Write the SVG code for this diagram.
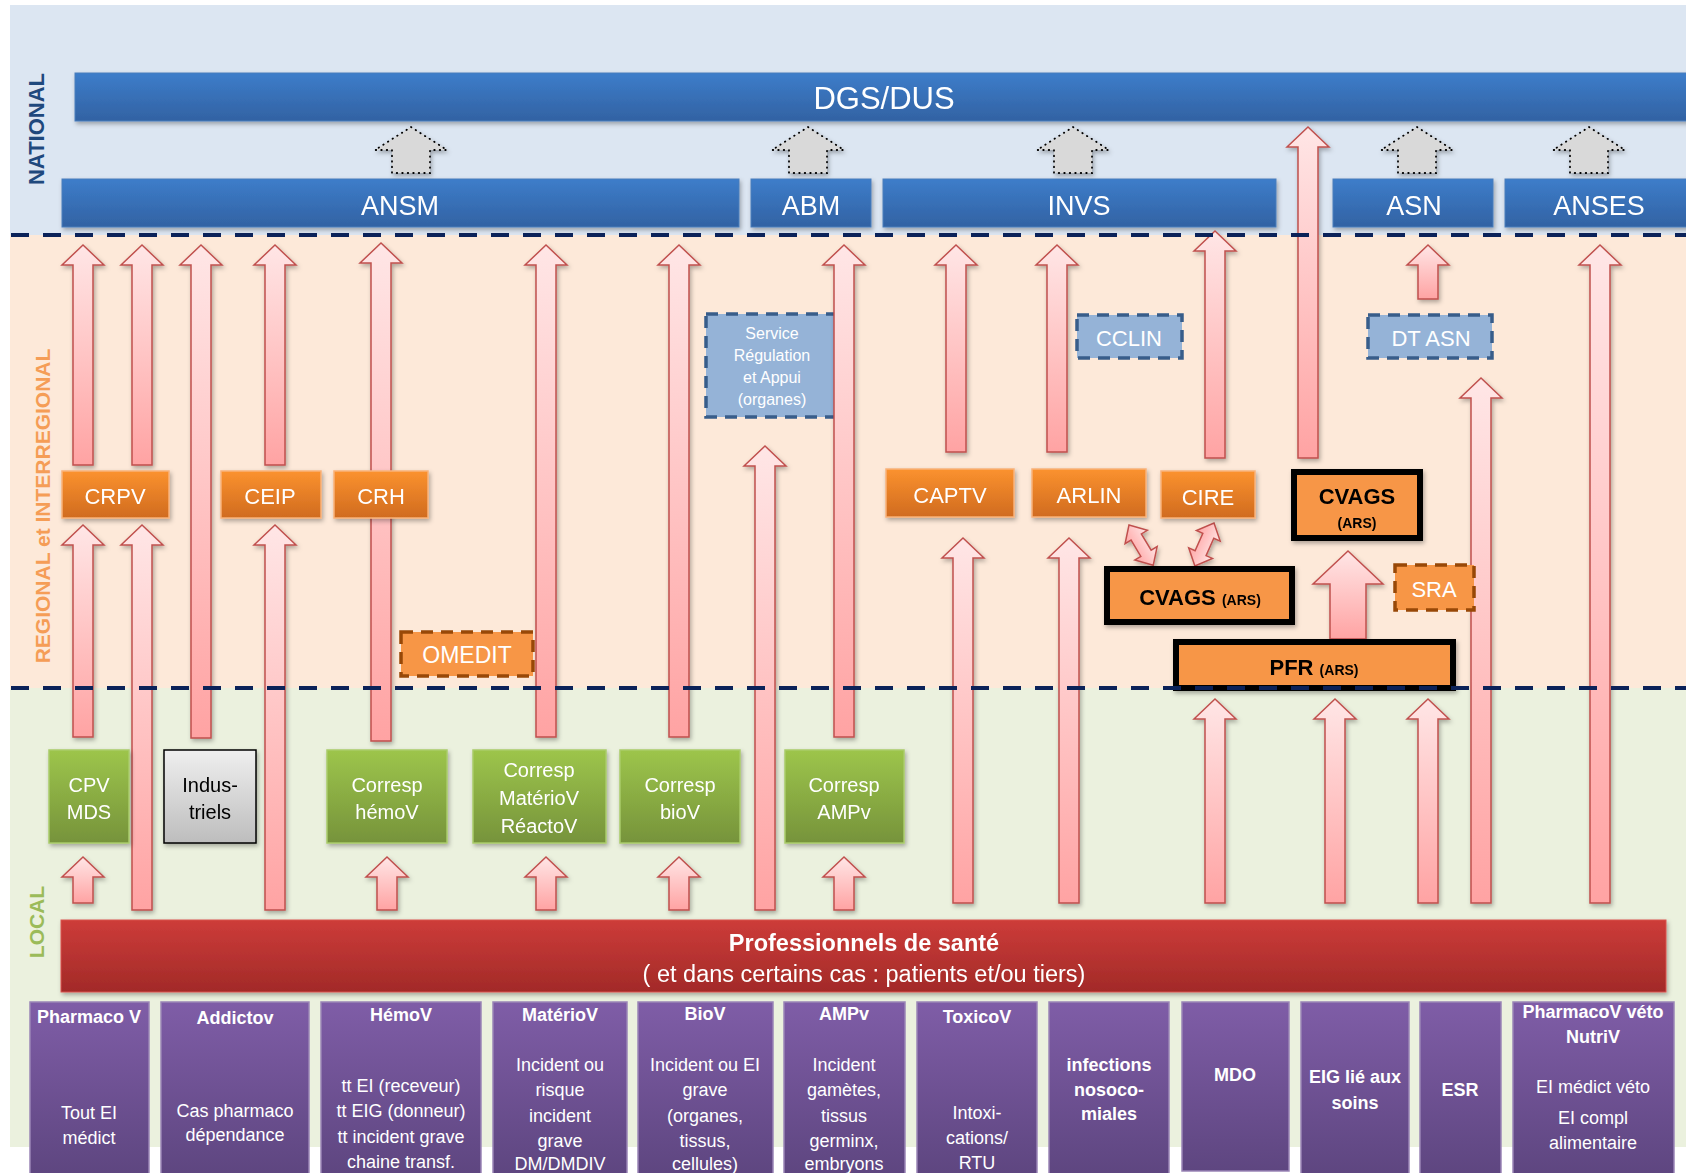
<svg xmlns="http://www.w3.org/2000/svg" width="1686" height="1173" viewBox="0 0 1686 1173">
<defs>
<linearGradient id="gBlue" x1="0" y1="0" x2="0" y2="1"><stop offset="0" stop-color="#3D7DCA"/><stop offset="1" stop-color="#3262A3"/></linearGradient>
<linearGradient id="gOr" x1="0" y1="0" x2="0" y2="1"><stop offset="0" stop-color="#FB922F"/><stop offset="1" stop-color="#D06B1F"/></linearGradient>
<linearGradient id="gGr" x1="0" y1="0" x2="0" y2="1"><stop offset="0" stop-color="#9DC54B"/><stop offset="1" stop-color="#76933B"/></linearGradient>
<linearGradient id="gGy" x1="0" y1="0" x2="0" y2="1"><stop offset="0" stop-color="#EFEFEF"/><stop offset="1" stop-color="#BDBDBD"/></linearGradient>
<linearGradient id="gRed" x1="0" y1="0" x2="0" y2="1"><stop offset="0" stop-color="#CD3C39"/><stop offset="1" stop-color="#A22A28"/></linearGradient>
<linearGradient id="gPu" x1="0" y1="0" x2="0" y2="1"><stop offset="0" stop-color="#7F5DA7"/><stop offset="1" stop-color="#5E4680"/></linearGradient>
<linearGradient id="gA" x1="0" y1="0" x2="0" y2="1"><stop offset="0" stop-color="#FFE6E6"/><stop offset="1" stop-color="#FFA3A3"/></linearGradient>
<filter id="sh" x="-10%" y="-10%" width="130%" height="140%"><feDropShadow dx="1.5" dy="2.5" stdDeviation="2" flood-color="#000" flood-opacity="0.3"/></filter>
</defs>
<style>
.t{font-family:"Liberation Sans",Arial,sans-serif;fill:#fff;text-anchor:middle}
.b{font-weight:bold}
.k{fill:#000}
.bar{fill:url(#gBlue);stroke:#4A7EBB;stroke-width:1}
.or{fill:url(#gOr);stroke:#F9B27A;stroke-width:1.5}
.od{fill:#F79646;stroke:#984807;stroke-width:3.5;stroke-dasharray:12 8}
.cv{fill:#F79646;stroke:#000;stroke-width:6}
.bd{fill:#95B3D7;stroke:#385D8A;stroke-width:3.5;stroke-dasharray:12 8}
.gr{fill:url(#gGr);stroke:#A9CB6A;stroke-width:1.5}
.pu{fill:url(#gPu);stroke:#9A85B6;stroke-width:1.5}
.arr{fill:url(#gA);stroke:#C0504D;stroke-width:1.5}
.dot{fill:#D9D9D9;stroke:#000;stroke-width:1.8;stroke-dasharray:0.5 5;stroke-linecap:round}
.dash{stroke:#0B2259;stroke-width:4;stroke-dasharray:18 14;fill:none}
</style>
<rect width="1686" height="1173" fill="#fff"/>
<g id="bands">
<rect x="10" y="5" width="1676" height="230" fill="#DCE6F2"/>
<rect x="10" y="235" width="1676" height="453" fill="#FDE9D9"/>
<rect x="10" y="688" width="1676" height="459" fill="#EBF1DE"/>
<text class="t b" transform="translate(44,129) rotate(-90)" font-size="22" style="fill:#1F497D">NATIONAL</text>
<text class="t b" transform="translate(50,506) rotate(-90)" font-size="21" style="fill:#F59D56">REGIONAL et INTERREGIONAL</text>
<text class="t b" transform="translate(44,922) rotate(-90)" font-size="21" style="fill:#9BBB59">LOCAL</text>
</g>
<g id="DGS" filter="url(#sh)"><rect class="bar" x="75" y="73" width="1630" height="48"/><text class="t" x="884" y="109" font-size="31">DGS/DUS</text></g>
<g id="ANSM" filter="url(#sh)"><rect class="bar" x="62" y="179" width="677" height="48"/><text class="t" x="400" y="215" font-size="27">ANSM</text></g>
<g id="ABM" filter="url(#sh)"><rect class="bar" x="751" y="179" width="120" height="48"/><text class="t" x="811" y="215" font-size="27">ABM</text></g>
<g id="INVS" filter="url(#sh)"><rect class="bar" x="883" y="179" width="393" height="48"/><text class="t" x="1079" y="215" font-size="27">INVS</text></g>
<g id="ASN" filter="url(#sh)"><rect class="bar" x="1333" y="179" width="160" height="48"/><text class="t" x="1414" y="215" font-size="27">ASN</text></g>
<g id="ANSES" filter="url(#sh)"><rect class="bar" x="1505" y="179" width="200" height="48"/><text class="t" x="1599" y="215" font-size="27">ANSES</text></g>
<g id="ServiceRegulation"><rect class="bd" x="706" y="314" width="134" height="103"/>
<text class="t" x="772" y="339" font-size="16">Service</text><text class="t" x="772" y="361" font-size="16">Régulation</text><text class="t" x="772" y="383" font-size="16">et Appui</text><text class="t" x="772" y="405" font-size="16">(organes)</text></g>
<g id="connectors" filter="url(#sh)">
<path class="dot" d="M411,127 L447,150 L430,150 L430,173 L392,173 L392,150 L375,150 Z"/>
<path class="dot" d="M808,127 L844,150 L827,150 L827,173 L789,173 L789,150 L772,150 Z"/>
<path class="dot" d="M1073,127 L1109,150 L1092,150 L1092,173 L1054,173 L1054,150 L1037,150 Z"/>
<path class="dot" d="M1417,127 L1453,150 L1436,150 L1436,173 L1398,173 L1398,150 L1381,150 Z"/>
<path class="dot" d="M1589,127 L1625,150 L1608,150 L1608,173 L1570,173 L1570,150 L1553,150 Z"/>
<path class="arr" d="M83,245 L104,265 L93,265 L93,465 L73,465 L73,265 L62,265 Z"/>
<path class="arr" d="M142,245 L163,265 L152,265 L152,465 L132,465 L132,265 L121,265 Z"/>
<path class="arr" d="M201,245 L222,265 L211,265 L211,738 L191,738 L191,265 L180,265 Z"/>
<path class="arr" d="M275,245 L296,265 L285,265 L285,465 L265,465 L265,265 L254,265 Z"/>
<path class="arr" d="M381,243 L402,263 L391,263 L391,741 L371,741 L371,263 L360,263 Z"/>
<path class="arr" d="M546,245 L567,265 L556,265 L556,737 L536,737 L536,265 L525,265 Z"/>
<path class="arr" d="M679,245 L700,265 L689,265 L689,737 L669,737 L669,265 L658,265 Z"/>
<path class="arr" d="M844,245 L865,265 L854,265 L854,737 L834,737 L834,265 L823,265 Z"/>
<path class="arr" d="M956,245 L977,265 L966,265 L966,452 L946,452 L946,265 L935,265 Z"/>
<path class="arr" d="M1057,245 L1078,265 L1067,265 L1067,452 L1047,452 L1047,265 L1036,265 Z"/>
<path class="arr" d="M1215,231 L1236,251 L1225,251 L1225,458 L1205,458 L1205,251 L1194,251 Z"/>
<path class="arr" d="M1308,127 L1329,147 L1318,147 L1318,458 L1298,458 L1298,147 L1287,147 Z"/>
<path class="arr" d="M1428,245 L1449,265 L1438,265 L1438,299 L1418,299 L1418,265 L1407,265 Z"/>
<path class="arr" d="M1600,245 L1621,265 L1610,265 L1610,903 L1590,903 L1590,265 L1579,265 Z"/>
<path class="arr" d="M1481,378 L1502,398 L1491,398 L1491,903 L1471,903 L1471,398 L1460,398 Z"/>
<path class="arr" d="M83,525 L104,545 L93,545 L93,737 L73,737 L73,545 L62,545 Z"/>
<path class="arr" d="M83,857 L104,877 L93,877 L93,903 L73,903 L73,877 L62,877 Z"/>
<path class="arr" d="M142,525 L163,545 L152,545 L152,910 L132,910 L132,545 L121,545 Z"/>
<path class="arr" d="M275,525 L296,545 L285,545 L285,910 L265,910 L265,545 L254,545 Z"/>
<path class="arr" d="M387,857 L408,877 L397,877 L397,910 L377,910 L377,877 L366,877 Z"/>
<path class="arr" d="M546,857 L567,877 L556,877 L556,910 L536,910 L536,877 L525,877 Z"/>
<path class="arr" d="M679,857 L700,877 L689,877 L689,910 L669,910 L669,877 L658,877 Z"/>
<path class="arr" d="M765,446 L786,466 L775,466 L775,910 L755,910 L755,466 L744,466 Z"/>
<path class="arr" d="M844,857 L865,877 L854,877 L854,910 L834,910 L834,877 L823,877 Z"/>
<path class="arr" d="M963,538 L984,558 L973,558 L973,903 L953,903 L953,558 L942,558 Z"/>
<path class="arr" d="M1069,538 L1090,558 L1079,558 L1079,903 L1059,903 L1059,558 L1048,558 Z"/>
<path class="arr" d="M1215,699 L1236,719 L1225,719 L1225,903 L1205,903 L1205,719 L1194,719 Z"/>
<path class="arr" d="M1335,699 L1356,719 L1345,719 L1345,903 L1325,903 L1325,719 L1314,719 Z"/>
<path class="arr" d="M1428,699 L1449,719 L1438,719 L1438,903 L1418,903 L1418,719 L1407,719 Z"/>
<path class="arr" d="M1348,551 L1383,584 L1366,584 L1366,639 L1330,639 L1330,584 L1313,584 Z"/>
<path class="arr" transform="translate(1129,525) rotate(59)" d="M0,0 L14,-13 L14,-6 L33,-6 L33,-13 L47,0 L33,13 L33,6 L14,6 L14,13 Z"/>
<path class="arr" transform="translate(1214,523) rotate(114)" d="M0,0 L14,-13 L14,-6 L33,-6 L33,-13 L47,0 L33,13 L33,6 L14,6 L14,13 Z"/>
</g>
<g id="CRPV" filter="url(#sh)"><rect class="or" x="62" y="471" width="107" height="47"/><text class="t" x="115" y="504" font-size="22">CRPV</text></g>
<g id="CEIP" filter="url(#sh)"><rect class="or" x="221" y="471" width="100" height="47"/><text class="t" x="270" y="504" font-size="22">CEIP</text></g>
<g id="CRH" filter="url(#sh)"><rect class="or" x="334" y="471" width="94" height="47"/><text class="t" x="381" y="504" font-size="22">CRH</text></g>
<g id="CAPTV" filter="url(#sh)"><rect class="or" x="886" y="469" width="128" height="48"/><text class="t" x="950" y="503" font-size="22">CAPTV</text></g>
<g id="ARLIN" filter="url(#sh)"><rect class="or" x="1032" y="469" width="114" height="48"/><text class="t" x="1089" y="503" font-size="22">ARLIN</text></g>
<g id="CIRE" filter="url(#sh)"><rect class="or" x="1161" y="471" width="94" height="47"/><text class="t" x="1208" y="505" font-size="22">CIRE</text></g>
<g id="OMEDIT"><rect class="od" x="401" y="632" width="132" height="44"/><text class="t" x="467" y="663" font-size="23">OMEDIT</text></g>
<g id="SRA"><rect class="od" x="1395" y="565" width="79" height="45"/><text class="t" x="1434" y="597" font-size="22">SRA</text></g>
<g id="CCLIN"><rect class="bd" x="1077" y="315" width="105" height="43"/><text class="t" x="1129" y="346" font-size="22">CCLIN</text></g>
<g id="DTASN"><rect class="bd" x="1368" y="315" width="124" height="43"/><text class="t" x="1431" y="346" font-size="22">DT ASN</text></g>
<g id="CVAGS1" filter="url(#sh)"><rect class="cv" x="1294" y="472" width="126" height="66"/><text class="t b k" x="1357" y="504" font-size="22">CVAGS</text><text class="t b k" x="1357" y="528" font-size="14">(ARS)</text></g>
<g id="CVAGS2" filter="url(#sh)"><rect class="cv" x="1107" y="569" width="185" height="53"/><text class="t b k" x="1200" y="605"><tspan font-size="22">CVAGS </tspan><tspan font-size="14">(ARS)</tspan></text></g>
<g id="PFR" filter="url(#sh)"><rect class="cv" x="1176" y="642" width="277" height="46"/><text class="t b k" x="1314" y="675"><tspan font-size="22">PFR </tspan><tspan font-size="14">(ARS)</tspan></text></g>
<g id="CPVMDS" filter="url(#sh)"><rect class="gr" x="49" y="750" width="80" height="93"/><text class="t" x="89" y="792" font-size="20">CPV</text><text class="t" x="89" y="819" font-size="20">MDS</text></g>
<g id="Industriels" filter="url(#sh)"><rect x="164" y="750" width="92" height="93" fill="url(#gGy)" stroke="#000" stroke-width="1.5"/><text class="t k" x="210" y="792" font-size="20">Indus-</text><text class="t k" x="210" y="819" font-size="20">triels</text></g>
<g id="CorrespHemoV" filter="url(#sh)"><rect class="gr" x="327" y="750" width="120" height="93"/><text class="t" x="387" y="792" font-size="20">Corresp</text><text class="t" x="387" y="819" font-size="20">hémoV</text></g>
<g id="CorrespMateriov" filter="url(#sh)"><rect class="gr" x="473" y="750" width="133" height="93"/><text class="t" x="539" y="777" font-size="20">Corresp</text><text class="t" x="539" y="805" font-size="20">MatérioV</text><text class="t" x="539" y="833" font-size="20">RéactoV</text></g>
<g id="CorrespBioV" filter="url(#sh)"><rect class="gr" x="620" y="750" width="120" height="93"/><text class="t" x="680" y="792" font-size="20">Corresp</text><text class="t" x="680" y="819" font-size="20">bioV</text></g>
<g id="CorrespAMPv" filter="url(#sh)"><rect class="gr" x="785" y="750" width="119" height="93"/><text class="t" x="844" y="792" font-size="20">Corresp</text><text class="t" x="844" y="819" font-size="20">AMPv</text></g>
<g id="dashes"><line class="dash" x1="11" y1="235" x2="1686" y2="235"/><line class="dash" x1="11" y1="688" x2="1686" y2="688"/></g>
<g id="Professionnels" filter="url(#sh)"><rect x="61" y="920" width="1605" height="72" fill="url(#gRed)" stroke="#D9534F" stroke-width="1"/>
<text class="t b" x="864" y="951" font-size="23.5">Professionnels de santé</text><text class="t" x="864" y="982" font-size="23.5">( et dans certains cas : patients et/ou tiers)</text></g>
<g id="PharmacoV"><rect class="pu" x="30" y="1002" width="119" height="172"/><text class="t b" x="89" y="1023" font-size="18">Pharmaco V</text><text class="t" x="89" y="1119" font-size="18">Tout EI</text><text class="t" x="89" y="1144" font-size="18">médict</text></g>
<g id="Addictov"><rect class="pu" x="161" y="1002" width="148" height="172"/><text class="t b" x="235" y="1024" font-size="18">Addictov</text><text class="t" x="235" y="1117" font-size="18">Cas pharmaco</text><text class="t" x="235" y="1141" font-size="18">dépendance</text></g>
<g id="HemoV"><rect class="pu" x="321" y="1002" width="160" height="172"/><text class="t b" x="401" y="1021" font-size="18">HémoV</text><text class="t" x="401" y="1092" font-size="18">tt EI (receveur)</text><text class="t" x="401" y="1117" font-size="18">tt EIG (donneur)</text><text class="t" x="401" y="1143" font-size="18">tt incident grave</text><text class="t" x="401" y="1168" font-size="18">chaine transf.</text></g>
<g id="MaterioV"><rect class="pu" x="493" y="1002" width="134" height="172"/><text class="t b" x="560" y="1021" font-size="18">MatérioV</text><text class="t" x="560" y="1071" font-size="18">Incident ou</text><text class="t" x="560" y="1096" font-size="18">risque</text><text class="t" x="560" y="1122" font-size="18">incident</text><text class="t" x="560" y="1147" font-size="18">grave</text><text class="t" x="560" y="1170" font-size="18">DM/DMDIV</text></g>
<g id="BioV"><rect class="pu" x="638" y="1002" width="135" height="172"/><text class="t b" x="705" y="1020" font-size="18">BioV</text><text class="t" x="705" y="1071" font-size="18">Incident ou EI</text><text class="t" x="705" y="1096" font-size="18">grave</text><text class="t" x="705" y="1122" font-size="18">(organes,</text><text class="t" x="705" y="1147" font-size="18">tissus,</text><text class="t" x="705" y="1170" font-size="18">cellules)</text></g>
<g id="AMPv"><rect class="pu" x="784" y="1002" width="121" height="172"/><text class="t b" x="844" y="1020" font-size="18">AMPv</text><text class="t" x="844" y="1071" font-size="18">Incident</text><text class="t" x="844" y="1096" font-size="18">gamètes,</text><text class="t" x="844" y="1122" font-size="18">tissus</text><text class="t" x="844" y="1147" font-size="18">germinx,</text><text class="t" x="844" y="1170" font-size="18">embryons</text></g>
<g id="ToxicoV"><rect class="pu" x="917" y="1002" width="120" height="172"/><text class="t b" x="977" y="1023" font-size="18">ToxicoV</text><text class="t" x="977" y="1119" font-size="18">Intoxi-</text><text class="t" x="977" y="1144" font-size="18">cations/</text><text class="t" x="977" y="1169" font-size="18">RTU</text></g>
<g id="Infections"><rect class="pu" x="1049" y="1002" width="120" height="172"/><text class="t b" x="1109" y="1071" font-size="18">infections</text><text class="t b" x="1109" y="1096" font-size="18">nosoco-</text><text class="t b" x="1109" y="1120" font-size="18">miales</text></g>
<g id="MDO"><rect class="pu" x="1182" y="1002" width="107" height="169"/><text class="t b" x="1235" y="1081" font-size="18">MDO</text></g>
<g id="EIG"><rect class="pu" x="1301" y="1002" width="108" height="172"/><text class="t b" x="1355" y="1083" font-size="18">EIG lié aux</text><text class="t b" x="1355" y="1109" font-size="18">soins</text></g>
<g id="ESR"><rect class="pu" x="1420" y="1002" width="81" height="172"/><text class="t b" x="1460" y="1096" font-size="18">ESR</text></g>
<g id="PharmacoVeto"><rect class="pu" x="1513" y="1002" width="161" height="172"/><text class="t b" x="1593" y="1018" font-size="18">PharmacoV véto</text><text class="t b" x="1593" y="1043" font-size="18">NutriV</text><text class="t" x="1593" y="1093" font-size="18">EI médict véto</text><text class="t" x="1593" y="1124" font-size="18">EI compl</text><text class="t" x="1593" y="1149" font-size="18">alimentaire</text></g>
</svg>
